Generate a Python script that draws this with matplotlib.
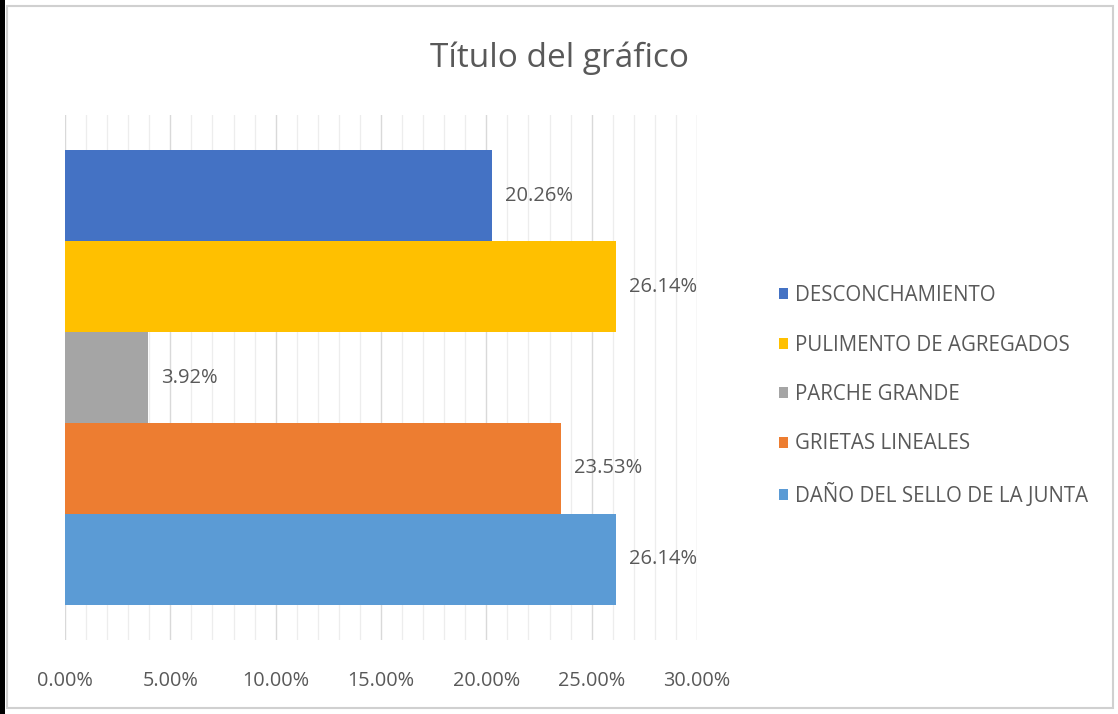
import matplotlib
matplotlib.use("Agg")
import matplotlib.pyplot as plt
from matplotlib.patches import Rectangle
from matplotlib.ticker import MultipleLocator, FuncFormatter
from matplotlib import font_manager

names = {f.name for f in font_manager.fontManager.ttflist}
fam = "Liberation Sans Narrow" if "Liberation Sans Narrow" in names else "Open Sans"
plt.rcParams['font.family'] = [fam, 'DejaVu Sans']

title = "Título del gráfico"
categories = ["DESCONCHAMIENTO", "PULIMENTO DE AGREGADOS", "PARCHE GRANDE",
              "GRIETAS LINEALES", "DAÑO DEL SELLO DE LA JUNTA"]
values = [20.26, 26.14, 3.92, 23.53, 26.14]
colors = ["#4472C4", "#FFC000", "#A5A5A5", "#ED7D31", "#5B9BD5"]
xticks = [0, 5, 10, 15, 20, 25, 30]

txt = "#595959"
fig = plt.figure(figsize=(11.18, 7.14), dpi=100)
fig.patch.set_facecolor("white")
# frame
fig.patches.append(Rectangle((0, 0), 5/1118, 1, transform=fig.transFigure,
                             facecolor="black", edgecolor="none", zorder=0))
fig.patches.append(Rectangle((7/1118, 6/714), 1106/1118, 702/714, transform=fig.transFigure,
                             facecolor="none", edgecolor="#D0D0D0", lw=1.5, zorder=0))

ax = fig.add_axes([65/1118, 1 - 640/714, (697-65)/1118, (640-115)/714])
for i, (c, v, col) in enumerate(zip(categories, values, colors)):
    ax.barh(i, v, height=1.0, color=col, label=c, zorder=3)
    ax.text(v + 0.62, i, f"{v:.2f}%", va="center", ha="left", fontsize=14.5, color=txt, zorder=4)

ax.set_xlim(0, 30)
ax.set_ylim(4.5 + 0.39, -0.5 - 0.39)
ax.xaxis.set_major_locator(MultipleLocator(5))
ax.xaxis.set_minor_locator(MultipleLocator(1))
ax.set_xticks(xticks)
ax.xaxis.set_major_formatter(FuncFormatter(lambda x, p: f"{x:.2f}%"))
ax.grid(axis="x", which="major", color="#D9D9D9", lw=1.0, zorder=0)
ax.grid(axis="x", which="minor", color="#EDEDED", lw=0.9, zorder=0)
ax.set_yticks([])
for s in ax.spines.values():
    s.set_visible(False)
ax.tick_params(axis="x", which="both", length=0, pad=22, labelsize=14.3, labelcolor=txt)

fig.text(560/1118, 1 - 58/714, title, ha="center", va="center", fontsize=24, color=txt)

handles, labels = ax.get_legend_handles_labels()
leg = fig.legend(handles, labels, loc="center left", bbox_to_anchor=(760/1118, 1 - 396/714),
                 frameon=False, fontsize=14.8, labelcolor=txt, handlelength=0.45, handleheight=0.45,
                 handletextpad=0.35, labelspacing=1.38)
fig.savefig("out.png", dpi=100, facecolor="white")
